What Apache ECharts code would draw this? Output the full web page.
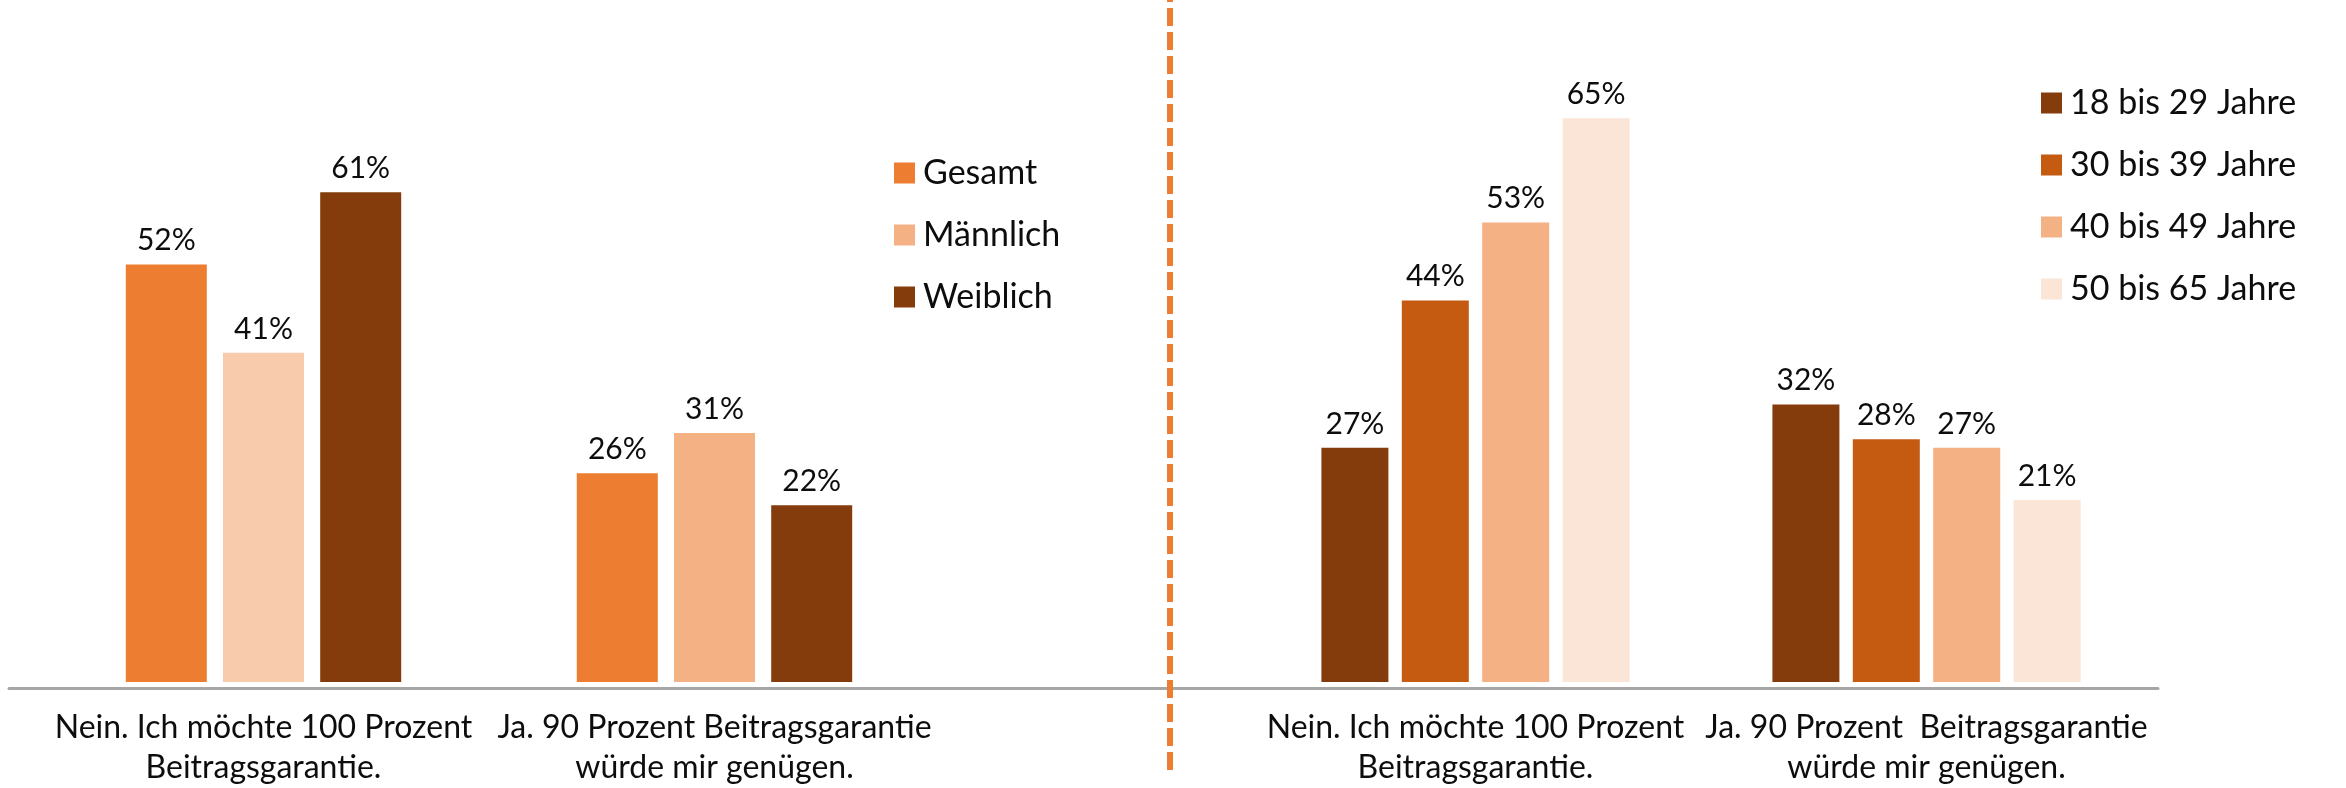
<!DOCTYPE html>
<html lang="de">
<head>
    <meta charset="utf-8" />
    <title>Beitragsgarantie</title>
    <script src="https://cdn.jsdelivr.net/npm/echarts@6/dist/echarts.min.js"></script>
</head>
<body style="margin:0">
    <div id="main" style="width:2346px;height:788px"></div>
    <script>
        // Daten
        var categoriesLeft = ['Nein. Ich möchte 100 Prozent\nBeitragsgarantie.', 'Ja. 90 Prozent Beitragsgarantie\nwürde mir genügen.'];
        var categoriesRight = ['Nein. Ich möchte 100 Prozent\nBeitragsgarantie.', 'Ja. 90 Prozent  Beitragsgarantie\nwürde mir genügen.'];

        var gesamt = [52, 26];
        var maennlich = [41, 31];
        var weiblich = [61, 22];

        var alter18 = [27, 32];
        var alter30 = [44, 28];
        var alter40 = [53, 27];
        var alter50 = [65, 21];

        var namesLeft = ['Gesamt', 'Männlich', 'Weiblich'];
        var namesRight = ['18 bis 29 Jahre', '30 bis 39 Jahre', '40 bis 49 Jahre', '50 bis 65 Jahre'];

        var font = 'Lato';
        var textColor = '#0d0d0d';

        var myChart = echarts.init(document.getElementById('main'));

        var label = {
            show: true,
            position: 'top',
            distance: 9,
            formatter: '{c}%',
            fontFamily: font,
            fontSize: 30,
            color: textColor
        };

        function bar(name, data, color, grid, width) {
            return {
                name: name,
                type: 'bar',
                xAxisIndex: grid,
                yAxisIndex: grid,
                data: data,
                barWidth: width,
                barGap: '20%',
                itemStyle: { color: color },
                label: label,
                animation: false
            };
        }

        // Männlich, erste Gruppe etwas heller
        var maennlichData = maennlich.map(function (v, i) {
            return i === 0 ? { value: v, itemStyle: { color: '#F8CBAD' } } : v;
        });

        function catAxis(grid, cats) {
            return {
                type: 'category',
                gridIndex: grid,
                data: cats,
                axisLine: { show: false },
                axisTick: { show: false },
                axisLabel: {
                    margin: 26,
                    fontFamily: font,
                    fontSize: 32,
                    lineHeight: 40,
                    color: textColor,
                    interval: 0
                }
            };
        }

        function valAxis(grid) {
            return {
                type: 'value',
                gridIndex: grid,
                min: 0,
                max: 70,
                show: false,
                splitLine: { show: false }
            };
        }

        var legendBase = {
            orient: 'vertical',
            padding: 0,
            itemWidth: 21,
            itemHeight: 21,
            itemGap: 28,
            icon: 'rect',
            selectedMode: false,
            textStyle: { fontFamily: font, fontSize: 34, lineHeight: 32, color: textColor, padding: [0, 0, 0, 3] }
        };

        var option = {
            backgroundColor: '#ffffff',
            grid: [
                { left: 38, width: 902, top: 120, height: 568 },
                { left: 1250, width: 902, top: 75, height: 613 },
                { left: 9, width: 2149, top: 600, height: 88 }
            ],
            legend: [
                Object.assign({}, legendBase, { data: namesLeft, left: 894, top: 156 }),
                Object.assign({}, legendBase, { data: namesRight, left: 2041, top: 86 })
            ],
            xAxis: [
                catAxis(0, categoriesLeft),
                catAxis(1, categoriesRight),
                {
                    type: 'value', gridIndex: 2, min: 0, max: 1,
                    axisLine: { show: true, onZero: false, lineStyle: { color: '#a6a6a6', width: 3 } },
                    axisTick: { show: false }, axisLabel: { show: false }, splitLine: { show: false }
                }
            ],
            yAxis: [valAxis(0), valAxis(1), valAxis(2)],
            series: [
                bar(namesLeft[0], gesamt, '#ED7D31', 0, 81),
                bar(namesLeft[1], maennlichData, '#F4B183', 0, 81),
                bar(namesLeft[2], weiblich, '#843C0C', 0, 81),
                bar(namesRight[0], alter18, '#843C0C', 1, 67),
                bar(namesRight[1], alter30, '#C55A11', 1, 67),
                bar(namesRight[2], alter40, '#F4B183', 1, 67),
                bar(namesRight[3], alter50, '#FBE5D6', 1, 67)
            ],
            graphic: [{
                type: 'line',
                shape: { x1: 1170, y1: 0, x2: 1170, y2: 771 },
                style: { stroke: '#ED7D31', lineWidth: 6, lineDash: [18, 6], lineDashOffset: 16 },
                z: 10
            }]
        };

        myChart.setOption(option);
    </script>
</body>
</html>
